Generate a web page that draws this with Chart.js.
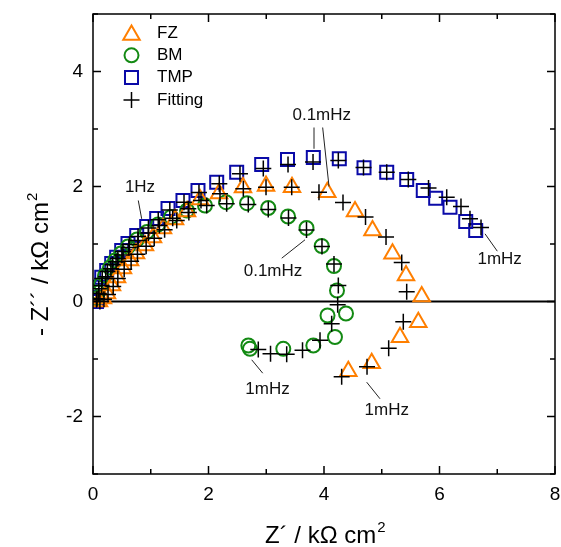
<!DOCTYPE html>
<html>
<head>
<meta charset="utf-8">
<script src="https://cdn.jsdelivr.net/npm/chart.js@4.4.1/dist/chart.umd.min.js"></script>
<style>
html, body { margin: 0; padding: 0; background: #fff; }
canvas { display: block; }
</style>
</head>
<body>
<canvas id="nyquist" width="561" height="547"></canvas>
<script>
// Nyquist data, [Z' , -Z''] in kΩ cm²
const fzPoints = [
    [0.104, 0.0], [0.173, 0.052], [0.242, 0.139], [0.329, 0.278], [0.416, 0.417],
    [0.519, 0.574], [0.641, 0.713], [0.745, 0.835], [0.9, 0.974], [1.039, 1.113],
    [1.212, 1.27], [1.42, 1.426], [1.628, 1.565], [1.853, 1.774], [2.182, 1.878],
    [2.597, 1.983], [2.996, 2.009], [3.446, 1.988], [4.057, 1.901], [4.537, 1.565],
    [4.84, 1.235], [5.186, 0.83], [5.42, 0.452], [5.692, 0.087], [5.633, -0.36],
    [5.316, -0.621], [4.826, -1.073], [4.421, -1.212]
];
const bmPoints = [
    [0.052, 0.052], [0.087, 0.157], [0.139, 0.296], [0.208, 0.452], [0.294, 0.591],
    [0.381, 0.713], [0.485, 0.835], [0.606, 0.957], [0.762, 1.078], [0.935, 1.209],
    [1.126, 1.339], [1.351, 1.47], [1.628, 1.583], [1.939, 1.67], [2.303, 1.727],
    [2.667, 1.71], [3.035, 1.626], [3.377, 1.478], [3.697, 1.278], [3.96, 0.965],
    [4.173, 0.617], [4.225, 0.191], [4.381, -0.209], [4.061, -0.243], [4.19, -0.617],
    [3.815, -0.765], [3.295, -0.823], [2.718, -0.823], [2.69, -0.765]
];
const tmpPoints = [
    [0.06, 0.0], [0.064, 0.075], [0.092, 0.249], [0.151, 0.423], [0.237, 0.539],
    [0.324, 0.661], [0.41, 0.77], [0.497, 0.887], [0.606, 1.009], [0.757, 1.148],
    [0.93, 1.304], [1.103, 1.443], [1.299, 1.617], [1.558, 1.757], [1.818, 1.93],
    [2.142, 2.075], [2.488, 2.249], [2.921, 2.383], [3.368, 2.47], [3.815, 2.504],
    [4.265, 2.482], [4.693, 2.325], [5.086, 2.249], [5.432, 2.122], [5.719, 1.93],
    [5.934, 1.797], [6.182, 1.64], [6.454, 1.391], [6.627, 1.235]
];
// equivalent-circuit fits for the three curves
const fzFit = [
    [0.12, 0.0], [0.19, 0.04], [0.26, 0.12], [0.35, 0.26], [0.43, 0.4],
    [0.54, 0.56], [0.66, 0.7], [0.77, 0.82], [0.92, 0.96], [1.06, 1.1],
    [1.24, 1.25], [1.45, 1.41], [1.66, 1.55], [1.87, 1.757], [2.199, 1.873],
    [2.603, 1.96], [2.996, 1.988], [3.441, 1.988], [3.913, 1.901], [4.329, 1.722],
    [4.719, 1.47], [5.074, 1.122], [5.346, 0.678], [5.432, 0.169], [5.373, -0.353],
    [5.12, -0.812], [4.745, -1.136], [4.306, -1.31]
];
const bmFit = [
    [0.06, 0.03], [0.1, 0.14], [0.15, 0.28], [0.22, 0.43], [0.31, 0.57],
    [0.4, 0.69], [0.5, 0.81], [0.62, 0.94], [0.78, 1.06], [0.96, 1.19],
    [1.15, 1.32], [1.38, 1.45], [1.65, 1.612], [1.969, 1.67], [2.315, 1.699],
    [2.689, 1.687], [3.035, 1.6], [3.385, 1.452], [3.697, 1.243], [3.965, 0.957],
    [4.173, 0.652], [4.248, 0.278], [4.237, -0.056], [4.133, -0.388], [3.931, -0.673],
    [3.628, -0.847], [3.354, -0.917], [3.074, -0.91], [2.862, -0.835]
];
const tmpFit = [
    [0.07, 0.05], [0.1, 0.22], [0.16, 0.4], [0.25, 0.52], [0.34, 0.64],
    [0.43, 0.75], [0.52, 0.87], [0.63, 0.99], [0.78, 1.13], [0.96, 1.28],
    [1.13, 1.42], [1.33, 1.59], [1.576, 1.727], [1.835, 1.896], [2.187, 2.047],
    [2.545, 2.221], [2.949, 2.313], [3.377, 2.383], [3.81, 2.426], [4.248, 2.452],
    [4.684, 2.33], [5.086, 2.249], [5.46, 2.122], [5.81, 1.974], [6.125, 1.814],
    [6.372, 1.652], [6.528, 1.438], [6.719, 1.287]
];
const xTicks = [0, 2, 4, 6, 8];
const yTicks = [-2, 0, 2, 4];

const FONT = '"Liberation Sans", Arial, sans-serif';
const ORANGE = '#ff7f00';
const GREEN = '#138a13';
const BLUE = '#0a0aa8';

const toXY = arr => arr.map(p => ({ x: p[0], y: p[1] }));

// frequency labels with leader lines, in data units
const notes = [
    { text: '1Hz', at: [0.814, 1.99], line: [[0.784, 1.757], [0.843, 1.438]] },
    { text: '0.1mHz', at: [3.961, 3.23], line: [[3.827, 3.026], [3.827, 2.656]] },
    { text: '', at: null, line: [[3.977, 3.026], [4.087, 2.0]] },
    { text: '0.1mHz', at: [3.117, 0.52], line: [[3.268, 0.753], [3.671, 1.073]] },
    { text: '1mHz', at: [7.042, 0.74], line: [[6.788, 1.177], [7.001, 0.875]] },
    { text: '1mHz', at: [3.022, -1.52], line: [[2.748, -1.014], [2.939, -1.247]] },
    { text: '1mHz', at: [5.086, -1.9], line: [[4.739, -1.403], [4.97, -1.692]] }
];

const legendItems = [
    { label: 'FZ', style: 'triangle', color: ORANGE, radius: 9.5, width: 2 },
    { label: 'BM', style: 'circle', color: GREEN, radius: 7, width: 2 },
    { label: 'TMP', style: 'rect', color: BLUE, radius: 9.2, width: 2 },
    { label: 'Fitting', style: 'cross', color: '#000', radius: 8, width: 1.5 }
];

function drawMarker(ctx, item, x, y) {
    ctx.save();
    ctx.strokeStyle = item.color;
    ctx.fillStyle = 'rgba(0,0,0,0)';
    ctx.lineWidth = item.width;
    Chart.helpers.drawPoint(ctx, { pointStyle: item.style, radius: item.radius, borderWidth: item.width, rotation: 0 }, x, y);
    ctx.restore();
}

// keep the plot box fixed, no extra room for overhanging tick labels
function fixBox(size) {
    return s => {
        if (s.isHorizontal()) s.height = size; else s.width = size;
        s.paddingLeft = 0;
        s.paddingRight = 0;
        s.paddingTop = 0;
        s.paddingBottom = 0;
    };
}

const framePlugin = {
    id: 'frame',
    beforeDatasetsDraw(chart) {
        const { ctx, chartArea: a, scales: { y } } = chart;
        const y0 = y.getPixelForValue(0);
        ctx.save();
        ctx.strokeStyle = '#000';
        ctx.lineWidth = 2;
        ctx.beginPath();
        ctx.moveTo(a.left, y0);
        ctx.lineTo(a.right, y0);
        ctx.stroke();
        ctx.restore();
    },
    afterDraw(chart) {
        const { ctx, chartArea: a, scales: { x, y } } = chart;
        ctx.save();
        ctx.strokeStyle = '#000';
        ctx.lineWidth = 1.5;
        ctx.strokeRect(a.left, a.top, a.right - a.left, a.bottom - a.top);

        // inward ticks on all four sides
        ctx.beginPath();
        for (let v = 0; v <= 8; v++) {
            const px = x.getPixelForValue(v);
            const len = v % 2 === 0 ? 8 : 5;
            ctx.moveTo(px, a.bottom); ctx.lineTo(px, a.bottom - len);
            ctx.moveTo(px, a.top); ctx.lineTo(px, a.top + len);
        }
        for (let v = -3; v <= 5; v++) {
            const py = y.getPixelForValue(v);
            const len = v % 2 === 0 ? 8 : 5;
            ctx.moveTo(a.left, py); ctx.lineTo(a.left + len, py);
            ctx.moveTo(a.right, py); ctx.lineTo(a.right - len, py);
        }
        ctx.stroke();

        // frequency annotations
        ctx.strokeStyle = '#222';
        ctx.lineWidth = 1;
        ctx.fillStyle = '#111';
        ctx.font = '17px ' + FONT;
        ctx.textAlign = 'center';
        ctx.textBaseline = 'middle';
        notes.forEach(n => {
            ctx.beginPath();
            ctx.moveTo(x.getPixelForValue(n.line[0][0]), y.getPixelForValue(n.line[0][1]));
            ctx.lineTo(x.getPixelForValue(n.line[1][0]), y.getPixelForValue(n.line[1][1]));
            ctx.stroke();
            if (n.at) ctx.fillText(n.text, x.getPixelForValue(n.at[0]), y.getPixelForValue(n.at[1]));
        });

        // legend, top left inside the frame
        ctx.font = '17px ' + FONT;
        ctx.textAlign = 'left';
        ctx.fillStyle = '#000';
        legendItems.forEach((item, i) => {
            const cy = a.top + 19 + i * 22.3;
            drawMarker(ctx, item, a.left + 38.5, cy + (item.style === 'triangle' ? 2 : 0));
            ctx.fillText(item.label, a.left + 64, cy);
        });

        // axis titles
        ctx.fillStyle = '#000';
        ctx.textBaseline = 'alphabetic';
        ctx.font = '24px ' + FONT;
        const xt = 'Z\u00b4 / k\u03a9 cm';
        const xw = ctx.measureText(xt).width;
        const xStart = 265;
        ctx.fillText(xt, xStart, 543);
        ctx.font = '15px ' + FONT;
        ctx.fillText('2', xStart + xw + 1, 532);

        ctx.translate(48, 336);
        ctx.rotate(-Math.PI / 2);
        ctx.font = '24px ' + FONT;
        const yt = '- Z\u00b4\u00b4 / k\u03a9 cm';
        const yw = ctx.measureText(yt).width;
        ctx.fillText(yt, 0, 0);
        ctx.font = '15px ' + FONT;
        ctx.fillText('2', yw + 1, -11);
        ctx.restore();
    }
};

const markerSet = (label, pts, style, color, radius, order) => ({
    label: label,
    data: toXY(pts),
    pointStyle: style,
    pointRadius: radius,
    pointHoverRadius: radius,
    pointBorderWidth: 2,
    pointBorderColor: color,
    pointBackgroundColor: 'rgba(0,0,0,0)',
    showLine: false,
    order: order
});

new Chart(document.getElementById('nyquist'), {
    type: 'scatter',
    data: {
        datasets: [
            markerSet('TMP', tmpPoints, 'rect', BLUE, 9.2, 3),
            markerSet('BM', bmPoints, 'circle', GREEN, 7, 2),
            markerSet('FZ', fzPoints, 'triangle', ORANGE, 9.5, 1),
            {
                label: 'Fitting',
                data: toXY(fzFit.concat(bmFit, tmpFit)),
                pointStyle: 'cross',
                pointRadius: 8,
                pointHoverRadius: 8,
                pointBorderWidth: 1.5,
                pointBorderColor: '#000',
                showLine: false,
                order: 0
            }
        ]
    },
    options: {
        responsive: false,
        animation: false,
        events: [],
        layout: { autoPadding: false, padding: { top: 14, right: 6, left: 0, bottom: 0 } },
        plugins: {
            legend: { display: false },
            tooltip: { enabled: false }
        },
        scales: {
            x: {
                type: 'linear',
                min: 0,
                max: 8,
                afterFit: fixBox(73),
                afterBuildTicks: s => { s.ticks = xTicks.map(v => ({ value: v })); },
                grid: { display: false, drawTicks: false },
                border: { display: false },
                ticks: {
                    padding: 9,
                    color: '#000',
                    font: { family: FONT, size: 19 },
                    maxRotation: 0
                }
            },
            y: {
                type: 'linear',
                min: -3,
                max: 5,
                afterFit: fixBox(93),
                afterBuildTicks: s => { s.ticks = yTicks.map(v => ({ value: v })); },
                grid: { display: false, drawTicks: false },
                border: { display: false },
                ticks: {
                    padding: 10,
                    color: '#000',
                    font: { family: FONT, size: 19 }
                }
            }
        }
    },
    plugins: [framePlugin]
});
</script>
</body>
</html>
